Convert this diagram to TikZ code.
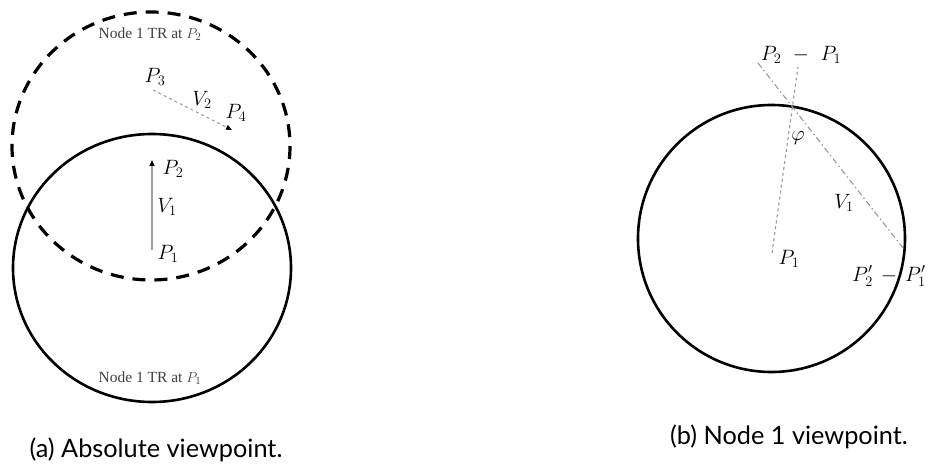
\documentclass[tikz,border=0pt]{standalone}
\usepackage{fontspec}
\setmainfont{Liberation Serif}
\newfontfamily\capfont{Lato}
\usetikzlibrary{arrows.meta}
\begin{document}
\begin{tikzpicture}[x=1pt,y=-1pt,
  ring/.style={line width=2.6pt,black},
  dashring/.style={line width=3.2pt,black,dash pattern=on 13pt off 9pt},
  vec/.style={gray!75,line width=1.3pt},
  dline/.style={gray!80,line width=1.1pt},
  lbl/.style={font=\fontsize{22}{24}\selectfont,inner sep=0pt},
  rlbl/.style={font=\fontsize{20}{22}\selectfont,inner sep=0pt},
  small/.style={font=\fontsize{15.5}{17}\selectfont,text=black!75,inner sep=0pt},
  captext/.style={font=\capfont\fontsize{25.3}{30}\selectfont,inner sep=0pt},
  vtip/.style={-{Triangle[length=6pt,width=5pt,black]}}]
\useasboundingbox (0,0) rectangle (929,465);
% left panel
\draw[dashring] (151,146) ellipse [x radius=139, y radius=134];
\draw[ring] (152,268) ellipse [x radius=139, y radius=134];
\node[small] (t2) at (150,34) {Node 1 TR at $P_2$};
\node[small] (t1) at (150,378) {Node 1 TR at $P_1$};
\coordinate (a1) at (152,250);
\coordinate (a2) at (152,160);
\draw[vec,vtip] (a1) -- (a2);
\node[lbl] (lp2) at (173,169) {$P_2$};
\node[lbl] (lv1) at (167,207) {$V_1$};
\node[lbl] (lp1) at (168,254) {$P_1$};
\coordinate (a3) at (153,90);
\coordinate (a4) at (232,130);
\draw[vec,dashed,line width=1.1pt,vtip] (a3) -- (a4);
\node[lbl] (lp3) at (155,77) {$P_3$};
\node[lbl] (lv2) at (202,100) {$V_2$};
\node[lbl] (lp4) at (236,113) {$P_4$};
% right panel
\draw[ring] (771.5,238.5) circle [radius=133.5];
\coordinate (b1) at (772,253);
\coordinate (b2) at (798,67);
\draw[dline,dashed] (b1) -- (b2);
\coordinate (c1) at (758,63);
\coordinate (c2) at (903,248);
\draw[dline,dash pattern=on 6pt off 3pt on 1.5pt off 3pt] (c1) -- (c2);
\node[rlbl] (rd) at (801,55) {$P_2\mkern10mu{-}\mkern10mu P_1$};
\node[rlbl] (phi) at (798,138) {$\varphi$};
\node[rlbl] (rv1) at (844,203) {$V_1$};
\node[rlbl] (rp1) at (789,259) {$P_1$};
\node[rlbl,anchor=west] (rd2) at (852,276) {$P_2'\mkern7mu{-}\mkern7mu P_1'$};
% captions
\node[captext] (ca) at (156,450) {(a) Absolute viewpoint.};
\node[captext] (cb) at (789,437) {(b) Node 1 viewpoint.};
\end{tikzpicture}
\end{document}
